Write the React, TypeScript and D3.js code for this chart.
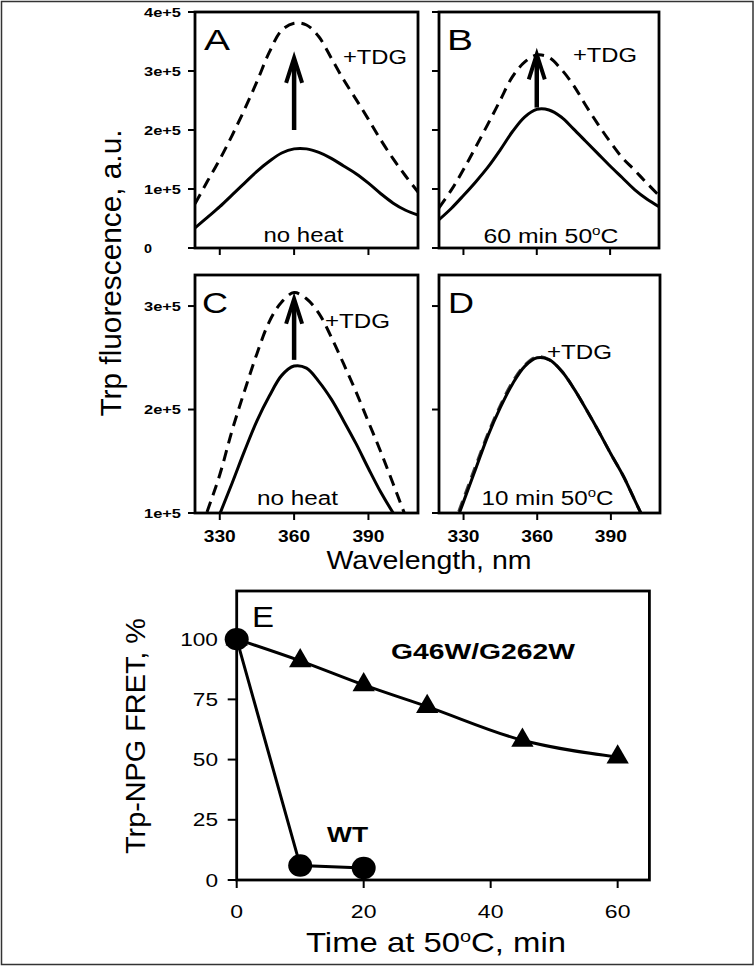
import React from 'react';
import * as d3 from 'd3';

// ---------- Data ----------
// Wavelength grid (nm) for the emission spectra
const wavelengths = [320, 325, 330, 335, 340, 345, 350, 355, 360, 365, 370, 375, 380, 385, 390, 395, 400, 405, 410];
// Fluorescence in units of 1e5 a.u.
const UNIT = 1e5;
const aNoHeat = [0.34, 0.52, 0.70, 0.90, 1.10, 1.30, 1.47, 1.61, 1.68, 1.68, 1.62, 1.52, 1.39, 1.26, 1.10, 0.92, 0.76, 0.64, 0.56];
const aTDG = [0.75, 1.13, 1.50, 1.91, 2.35, 2.82, 3.32, 3.69, 3.81, 3.78, 3.58, 3.22, 2.85, 2.52, 2.18, 1.83, 1.51, 1.22, 0.95];
const bHeat60 = [0.48, 0.67, 0.89, 1.12, 1.37, 1.66, 1.97, 2.22, 2.35, 2.34, 2.22, 2.02, 1.81, 1.60, 1.39, 1.19, 0.99, 0.83, 0.70];
const bTDG = [0.68, 0.98, 1.33, 1.71, 2.10, 2.50, 2.90, 3.15, 3.27, 3.23, 3.03, 2.76, 2.42, 2.10, 1.80, 1.53, 1.32, 1.10, 0.89];
const cNoHeat = [0.40, 0.70, 0.99, 1.29, 1.60, 1.89, 2.13, 2.33, 2.42, 2.40, 2.27, 2.10, 1.89, 1.67, 1.43, 1.20, 1.00, 0.82, 0.65];
const cTDG = [0.68, 1.02, 1.37, 1.80, 2.18, 2.54, 2.85, 3.04, 3.13, 3.07, 2.93, 2.70, 2.44, 2.17, 1.88, 1.59, 1.28, 0.97, 0.70];
const dHeat10 = [0.50, 0.79, 1.11, 1.43, 1.75, 2.02, 2.25, 2.42, 2.50, 2.48, 2.37, 2.20, 2.00, 1.79, 1.57, 1.36, 1.11, 0.86, 0.62];
const dTDG = [0.53, 0.82, 1.14, 1.46, 1.77, 2.04, 2.27, 2.43, 2.51, 2.48, 2.37, 2.20, 2.00, 1.79, 1.57, 1.36, 1.11, 0.86, 0.62];

const xTickValues = [330, 360, 390];
const yTicksTop = [0, 1, 2, 3, 4];
const yTickLabelsTop = ['0', '1e+5', '2e+5', '3e+5', '4e+5'];
const yTicksBottom = [1, 2, 3];
const yTickLabelsBottom = ['1e+5', '2e+5', '3e+5'];

// Arrows (wavelength, from, to) in units of 1e5
const arrowA = [360, 2.0, 3.24];
const arrowB = [360, 2.38, 3.3];
const arrowC = [360, 2.48, 3.08];

// Panel E
const timeG = [0, 10, 20, 30, 45, 60];
const fretG = [100, 91, 81, 72, 58, 51];
const timeWT = [0, 10, 20];
const fretWT = [100, 6, 5];
const eXTicks = [0, 20, 40, 60];
const eYTicks = [0, 25, 50, 75, 100];

// ---------- Helpers ----------
const FONT = "'Liberation Sans', Arial, Helvetica, sans-serif";

function T(props: any) {
  const { x, y, size, w, anchor = 'start', weight = 'normal', rotate, children } = props;
  return (
    <text
      x={x}
      y={y}
      fontSize={size}
      fontWeight={weight}
      textAnchor={anchor}
      fontFamily={FONT}
      fill="#000"
      textLength={w}
      lengthAdjust={w ? 'spacingAndGlyphs' : undefined}
      transform={rotate ? `rotate(${rotate},${x},${y})` : undefined}
    >
      {children}
    </text>
  );
}

function Arrow({ x, yBase, yTip }: any) {
  return (
    <g stroke="#000" fill="none" strokeLinejoin="miter">
      <line x1={x} y1={yBase} x2={x} y2={yTip + 3} strokeWidth={4.5} />
      <polyline points={`${x - 8},${yTip + 26} ${x},${yTip + 1} ${x + 8},${yTip + 26}`} strokeWidth={4} />
    </g>
  );
}

function Spectrum(props: any) {
  const { id, left, right, top, bottom, yDomain, yTicks, yLabels, showYLabels, showXLabels, solid, dashed, arrow, letter, letterX, labels, dashColor } = props;
  const x = d3.scaleLinear().domain([320, 410]).range([left, right]);
  const y = d3.scaleLinear().domain(yDomain).range([bottom, top]);
  const line = d3
    .line<number>()
    .x((_, i) => x(wavelengths[i]))
    .y((d) => y(d))
    .curve(d3.curveCatmullRom.alpha(0.5));
  return (
    <g>
      <defs>
        <clipPath id={id}>
          <rect x={left} y={top} width={right - left} height={bottom - top} />
        </clipPath>
      </defs>
      <g clipPath={`url(#${id})`}>
        <path d={line(dashed) || ''} fill="none" stroke={dashColor || '#000'} strokeWidth={3} strokeDasharray="11,7" />
        <path d={line(solid) || ''} fill="none" stroke="#000" strokeWidth={3} />
      </g>
      {arrow && <Arrow x={x(arrow[0])} yBase={y(arrow[1])} yTip={y(arrow[2])} />}
      <rect x={left} y={top} width={right - left} height={bottom - top} fill="none" stroke="#000" strokeWidth={2.8} />
      {yTicks.map((t: number, i: number) => (
        <g key={'y' + i}>
          <line x1={left - 7} x2={left} y1={y(t)} y2={y(t)} stroke="#000" strokeWidth={2} />
          {showYLabels && (
            <T x={144} y={y(t) + 4.5} size={12} weight="bold" w={yLabels[i].length > 1 ? 37 : 8}>
              {yLabels[i]}
            </T>
          )}
        </g>
      ))}
      {xTickValues.map((t, i) => (
        <g key={'x' + i}>
          <line x1={x(t)} x2={x(t)} y1={bottom} y2={bottom + 7} stroke="#000" strokeWidth={2} />
          {showXLabels && (
            <T x={x(t)} y={542} size={17} weight="bold" anchor="middle" w={32}>
              {String(t)}
            </T>
          )}
        </g>
      ))}
      <T x={letterX} y={top + 38} size={30} w={26}>
        {letter}
      </T>
      {labels}
    </g>
  );
}

function PanelE() {
  const left = 236.7, right = 649.4, top = 591, bottom = 880;
  const x = d3.scaleLinear().domain([0, 65]).range([left, right]);
  const y = d3.scaleLinear().domain([0, 120]).range([bottom, top]);
  const lineG = d3
    .line<number>()
    .x((_, i) => x(timeG[i]))
    .y((d) => y(d))
    .curve(d3.curveMonotoneX);
  const lineWT = d3
    .line<number>()
    .x((_, i) => x(timeWT[i]))
    .y((d) => y(d));
  const tri = d3.symbol().type(d3.symbolTriangle).size(215)();
  return (
    <g>
      <rect x={left} y={top} width={right - left} height={bottom - top} fill="none" stroke="#000" strokeWidth={2.8} />
      {eYTicks.map((t, i) => (
        <g key={'ey' + i}>
          <line x1={left - 9} x2={left} y1={y(t)} y2={y(t)} stroke="#000" strokeWidth={2} />
          <T x={218} y={y(t) + 6.5} size={18} anchor="end" w={String(t).length * 12.6}>
            {String(t)}
          </T>
        </g>
      ))}
      {eXTicks.map((t, i) => (
        <g key={'ex' + i}>
          <line x1={x(t)} x2={x(t)} y1={bottom} y2={bottom + 8} stroke="#000" strokeWidth={2} />
          <T x={x(t)} y={918} size={18} anchor="middle" w={String(t).length * 12.8}>
            {String(t)}
          </T>
        </g>
      ))}
      <path d={lineG(fretG) || ''} fill="none" stroke="#000" strokeWidth={3} />
      <path d={lineWT(fretWT) || ''} fill="none" stroke="#000" strokeWidth={3} />
      {fretG.map((v, i) => (
        <path key={'t' + i} d={tri || ''} transform={`translate(${x(timeG[i])},${y(v)})`} fill="#000" />
      ))}
      {fretWT.map((v, i) => (
        <ellipse key={'c' + i} cx={x(timeWT[i])} cy={y(v)} rx={12} ry={11.2} fill="#000" />
      ))}
      <T x={252} y={627} size={30} w={22}>E</T>
      <T x={391} y={659} size={22} weight="bold" w={184}>G46W/G262W</T>
      <T x={327} y={842} size={22} weight="bold" w={41}>WT</T>
      <T x={436} y={952} size={28} anchor="middle" w={260}>
        Time at 50<tspan dy={-10} fontSize={17}>o</tspan>
        <tspan dy={10}>C, min</tspan>
      </T>
      <T x={145} y={736} size={28} anchor="middle" rotate={-90} w={236}>
        Trp-NPG FRET, %
      </T>
    </g>
  );
}

export default function App() {
  const s = (arr: number[]) => arr.map((v) => v * UNIT);
  return (
    <svg
      width={756}
      height={967}
      viewBox="0 0 756 967"
      style={{ position: 'absolute', left: 0, top: 0, background: '#fff' }}
    >
      <rect x={0} y={0} width={756} height={967} fill="#fff" />
      <rect x={1.5} y={1.5} width={751.5} height={963} fill="none" stroke="#333" strokeWidth={1.5} />

      <Spectrum
        id="clipA" left={195} right={418} top={12} bottom={248}
        yDomain={[0, 4 * UNIT]} yTicks={yTicksTop.map((t) => t * UNIT)} yLabels={yTickLabelsTop}
        showYLabels showXLabels={false}
        solid={s(aNoHeat)} dashed={s(aTDG)}
        arrow={[arrowA[0], arrowA[1] * UNIT, arrowA[2] * UNIT]}
        letter="A" letterX={204}
        labels={
          <g>
            <T x={343} y={64} size={19.5} w={64}>+TDG</T>
            <T x={303.5} y={242} size={19.5} anchor="middle" w={80}>no heat</T>
          </g>
        }
      />
      <Spectrum
        id="clipB" left={439} right={659} top={12} bottom={248}
        yDomain={[0, 4 * UNIT]} yTicks={yTicksTop.map((t) => t * UNIT)} yLabels={yTickLabelsTop}
        showYLabels={false} showXLabels={false}
        solid={s(bHeat60)} dashed={s(bTDG)}
        arrow={[arrowB[0], arrowB[1] * UNIT, arrowB[2] * UNIT]}
        letter="B" letterX={447}
        labels={
          <g>
            <T x={573} y={62} size={19.5} w={64}>+TDG</T>
            <T x={551} y={243} size={19.5} anchor="middle" w={135}>
              60 min 50<tspan dy={-8} fontSize={12}>o</tspan>
              <tspan dy={8}>C</tspan>
            </T>
          </g>
        }
      />
      <Spectrum
        id="clipC" left={195} right={418} top={275} bottom={513}
        yDomain={[1 * UNIT, 3.3 * UNIT]} yTicks={yTicksBottom.map((t) => t * UNIT)} yLabels={yTickLabelsBottom}
        showYLabels showXLabels
        solid={s(cNoHeat)} dashed={s(cTDG)}
        arrow={[arrowC[0], arrowC[1] * UNIT, arrowC[2] * UNIT]}
        letter="C" letterX={202}
        labels={
          <g>
            <T x={325} y={328} size={19.5} w={65}>+TDG</T>
            <T x={297.5} y={505} size={19.5} anchor="middle" w={81}>no heat</T>
          </g>
        }
      />
      <Spectrum
        id="clipD" left={439} right={660} top={275} bottom={513}
        yDomain={[1 * UNIT, 3.3 * UNIT]} yTicks={yTicksBottom.map((t) => t * UNIT)} yLabels={yTickLabelsBottom}
        showYLabels={false} showXLabels
        solid={s(dHeat10)} dashed={s(dTDG)} dashColor="#444"
        letter="D" letterX={448}
        labels={
          <g>
            <T x={547} y={359} size={19.5} w={65}>+TDG</T>
            <T x={547.5} y={505} size={19.5} anchor="middle" w={132}>
              10 min 50<tspan dy={-8} fontSize={12}>o</tspan>
              <tspan dy={8}>C</tspan>
            </T>
          </g>
        }
      />

      <T x={121} y={273} size={29} anchor="middle" rotate={-90} w={287}>
        Trp fluorescence, a.u.
      </T>
      <T x={429} y={569} size={26} anchor="middle" w={205}>
        Wavelength, nm
      </T>

      <PanelE />
    </svg>
  );
}
